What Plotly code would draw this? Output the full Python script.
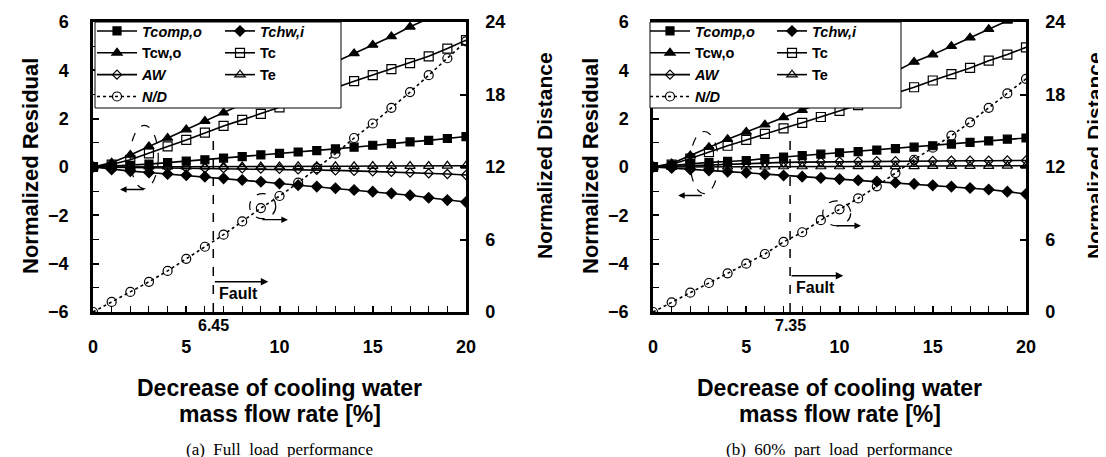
import plotly.graph_objects as go

W, H = 1106, 457

# ---------------- data ----------------
x_pct = [0, 1, 2, 3, 4, 5, 6, 7, 8, 9, 10, 11, 12, 13, 14, 15, 16, 17, 18, 19, 20]

# (a) Full load performance
a_tcomp_o = [0, 0.03, 0.07, 0.12, 0.18, 0.24, 0.30, 0.37, 0.43, 0.50, 0.56, 0.62, 0.68, 0.75, 0.82, 0.90, 0.97, 1.04, 1.10, 1.18, 1.26]
a_tchw_i = [0, -0.10, -0.17, -0.23, -0.29, -0.34, -0.40, -0.47, -0.54, -0.61, -0.68, -0.75, -0.81, -0.88, -0.95, -1.02, -1.09, -1.17, -1.27, -1.37, -1.45]
a_tcw_o = [0, 0.18, 0.50, 0.85, 1.20, 1.55, 1.90, 2.25, 2.60, 2.95, 3.30, 3.65, 4.00, 4.35, 4.70, 5.05, 5.40, 5.80, 6.15, 6.50, 6.85]
a_tc = [0, 0.10, 0.30, 0.56, 0.85, 1.12, 1.42, 1.70, 1.95, 2.20, 2.47, 2.75, 3.00, 3.28, 3.55, 3.80, 4.05, 4.30, 4.58, 4.90, 5.25]
a_aw = [0, -0.01, -0.02, -0.03, -0.03, -0.04, -0.05, -0.05, -0.06, -0.07, -0.08, -0.10, -0.12, -0.14, -0.16, -0.18, -0.20, -0.23, -0.26, -0.29, -0.33]
a_te = [0, 0.0, 0.0, 0.01, 0.01, 0.01, 0.01, 0.02, 0.02, 0.02, 0.02, 0.03, 0.03, 0.03, 0.03, 0.04, 0.04, 0.04, 0.04, 0.05, 0.05]
a_nd = [0, 0.83, 1.66, 2.5, 3.4, 4.4, 5.4, 6.4, 7.5, 8.6, 9.6, 10.7, 11.9, 13.1, 14.4, 15.6, 16.9, 18.2, 19.6, 21.0, 22.4]
a_fault = 6.45

# (b) 60% part load performance
b_tcomp_o = [0, 0.07, 0.14, 0.19, 0.23, 0.27, 0.35, 0.41, 0.47, 0.53, 0.59, 0.64, 0.70, 0.76, 0.82, 0.88, 0.95, 1.02, 1.08, 1.15, 1.20]
b_tchw_i = [0, -0.04, -0.10, -0.14, -0.19, -0.24, -0.30, -0.35, -0.40, -0.45, -0.50, -0.55, -0.60, -0.65, -0.70, -0.76, -0.81, -0.87, -0.93, -1.02, -1.12]
b_tcw_o = [0, 0.15, 0.48, 0.82, 1.15, 1.45, 1.75, 2.05, 2.35, 2.65, 2.95, 3.25, 3.60, 3.95, 4.35, 4.65, 5.00, 5.35, 5.70, 6.05, 6.40]
b_tc = [0, 0.10, 0.35, 0.62, 0.88, 1.12, 1.37, 1.60, 1.83, 2.07, 2.32, 2.56, 2.80, 3.05, 3.30, 3.58, 3.84, 4.10, 4.40, 4.65, 4.95]
b_aw = [0, 0.03, 0.07, 0.10, 0.13, 0.15, 0.17, 0.19, 0.20, 0.21, 0.22, 0.23, 0.24, 0.24, 0.25, 0.25, 0.26, 0.26, 0.26, 0.27, 0.27]
b_te = [0, 0.0, 0.0, 0.01, 0.01, 0.01, 0.01, 0.02, 0.02, 0.02, 0.02, 0.03, 0.03, 0.03, 0.03, 0.04, 0.04, 0.04, 0.04, 0.05, 0.05]
b_nd = [0, 0.8, 1.6, 2.4, 3.2, 4.0, 4.8, 5.8, 6.6, 7.6, 8.5, 9.4, 10.4, 11.5, 12.6, 13.6, 14.6, 15.7, 16.9, 18.1, 19.3]
b_fault = 7.35

x_ticks = [0, 5, 10, 15, 20]
res_ticks = [-6, -4, -2, 0, 2, 4, 6]
dist_ticks = [0, 6, 12, 18, 24]

series_names = ["<i>Tcomp,o</i>", "<i>Tchw,i</i>", "Tcw,o", "Tc", "<i>AW</i>", "Te", "<i>N/D</i>"]
captions = ["(a)\u00a0\u00a0Full\u00a0\u00a0load\u00a0\u00a0performance",
            "(b)\u00a0\u00a060%\u00a0\u00a0part\u00a0\u00a0load\u00a0\u00a0performance"]

# ---------------- geometry (pixels) ----------------
def px(v):
    return v / W

def py(v):
    return 1 - v / H

plot_left = [85, 645]
plot_w = 373
top_px, bot_px = 14, 304

SANS = "Liberation Sans"
SERIF = "Liberation Serif"
BLACK = "black"

fig = go.Figure()

styles = [
    dict(symbol="square", size=8),
    dict(symbol="diamond", size=8),
    dict(symbol="triangle-up", size=9),
    dict(symbol="square-open", size=9),
    dict(symbol="diamond-open", size=7),
    dict(symbol="triangle-up-open", size=9),
    dict(symbol="circle-open", size=9),
]
col_of = [1, 2, 1, 2, 1, 2, 1]

panels = [
    dict(res=[a_tcomp_o, a_tchw_i, a_tcw_o, a_tc, a_aw, a_te], nd=a_nd,
         xa="x", ya="y", yd="y3", legs=("legend", "legend2")),
    dict(res=[b_tcomp_o, b_tchw_i, b_tcw_o, b_tc, b_aw, b_te], nd=b_nd,
         xa="x2", ya="y2", yd="y4", legs=("legend3", "legend4")),
]

for p in panels:
    for i, vals in enumerate(p["res"]):
        st = styles[i]
        fig.add_trace(go.Scatter(
            x=x_pct, y=vals, mode="lines+markers", name=series_names[i],
            line=dict(color=BLACK, width=1.6),
            marker=dict(symbol=st["symbol"], size=st["size"], color=BLACK,
                        line=dict(color=BLACK, width=1.2)),
            xaxis=p["xa"], yaxis=p["ya"],
            legend=p["legs"][col_of[i] - 1],
        ))
    st = styles[6]
    fig.add_trace(go.Scatter(
        x=x_pct, y=p["nd"], mode="lines+markers", name=series_names[6],
        line=dict(color=BLACK, width=1.6, dash="dot"),
        marker=dict(symbol=st["symbol"], size=st["size"], color=BLACK,
                    line=dict(color=BLACK, width=1.2)),
        xaxis=p["xa"], yaxis=p["yd"], legend=p["legs"][0],
    ))

tickfont = dict(family=SANS, size=18, color=BLACK, weight="bold")

def xaxis_cfg(left):
    return dict(
        domain=[px(left), px(left + plot_w)], range=[0, 20],
        tickvals=x_ticks, ticks="inside", ticklen=6, tickwidth=1.5, tickcolor=BLACK,
        minor=dict(dtick=1, ticks="inside", ticklen=6, tickwidth=1.2, tickcolor=BLACK, showgrid=False),
        showline=True, linewidth=2.5, linecolor=BLACK, mirror=True,
        showgrid=False, zeroline=False, tickfont=tickfont, ticklabelstandoff=17,
    )

def yres_cfg(xa):
    return dict(
        domain=[py(bot_px), py(top_px)], range=[-6, 6], anchor=xa,
        tickvals=res_ticks, ticks="inside", ticklen=6, tickwidth=1.5, tickcolor=BLACK,
        minor=dict(dtick=1, ticks="inside", ticklen=6, tickwidth=1.2, tickcolor=BLACK, showgrid=False),
        showline=True, linewidth=2.5, linecolor=BLACK, mirror=True,
        showgrid=False, zeroline=False, tickfont=tickfont, ticklabelstandoff=18,
    )

def ydist_cfg(xa, over):
    return dict(
        range=[0, 24], anchor=xa, overlaying=over, side="right",
        tickvals=dist_ticks, ticks="inside", ticklen=6, tickwidth=1.5, tickcolor=BLACK,
        showline=True, linewidth=2.5, linecolor=BLACK,
        showgrid=False, zeroline=False, tickfont=tickfont, ticklabelstandoff=13,
    )

legend_font = dict(family=SANS, size=14.5, color=BLACK, weight="bold")

def legend_cfg(xpix, iw):
    return dict(x=px(xpix), y=py(7), xanchor="left", yanchor="top",
                bgcolor="rgba(0,0,0,0)", borderwidth=0, font=legend_font,
                tracegroupgap=0, itemwidth=iw)

fig.update_layout(
    width=W, height=H,
    margin=dict(l=0, r=0, t=0, b=0, autoexpand=False),
    paper_bgcolor="white", plot_bgcolor="white",
    showlegend=True,
    xaxis=xaxis_cfg(plot_left[0]),
    xaxis2=xaxis_cfg(plot_left[1]),
    yaxis=yres_cfg("x"),
    yaxis2=yres_cfg("x2"),
    yaxis3=ydist_cfg("x", "y"),
    yaxis4=ydist_cfg("x2", "y2"),
    legend=legend_cfg(plot_left[0] - 1, 40),
    legend2=legend_cfg(plot_left[0] + 127, 30),
    legend3=legend_cfg(plot_left[1] - 8, 40),
    legend4=legend_cfg(plot_left[1] + 119, 30),
)

shapes = []
annotations = []
faults = [a_fault, b_fault]
fault_arrow_end = [(9.4, -4.75), (10.2, -4.5)]
fault_text_y = [-5.25, -5.0]
ell1 = [dict(x0=2.0, x1=3.5, y0=-0.9, y1=1.72), dict(x0=2.0, x1=3.5, y0=-1.1, y1=1.47)]
ell1_arrow = [(2.8, 1.45, -0.93), (2.7, 1.35, -1.18)]
ell2 = [dict(x0=8.4, x1=9.8, y0=-2.14, y1=-1.1), dict(x0=9.1, x1=10.6, y0=-2.43, y1=-1.4)]
ell2_arrow = [(9.0, 10.45, -2.18), (9.75, 11.15, -2.43)]
box_px = [(87, 333), (642, 893)]
dist_title_x = [536, 1086]

for k, (xa, ya) in enumerate([("x", "y"), ("x2", "y2")]):
    left = plot_left[k]
    # legend box
    shapes.append(dict(type="rect", xref="paper", yref="paper",
                       x0=px(box_px[k][0]), x1=px(box_px[k][1]),
                       y0=py(100), y1=py(top_px),
                       fillcolor="white", line=dict(color=BLACK, width=1), layer="above"))
    f = faults[k]
    shapes.append(dict(type="line", xref=xa, yref=ya, x0=f, x1=f, y0=-6, y1=1.25,
                       line=dict(color=BLACK, width=1.5, dash="dash"), layer="below"))
    shapes.append(dict(type="circle", xref=xa, yref=ya, **ell1[k],
                       line=dict(color=BLACK, width=1.2, dash="dash")))
    shapes.append(dict(type="circle", xref=xa, yref=ya, **ell2[k],
                       line=dict(color=BLACK, width=1.2, dash="dash")))
    # arrows
    fx, fy = fault_arrow_end[k]
    annotations.append(dict(x=fx, y=fy, ax=f, ay=fy, xref=xa, yref=ya, axref=xa, ayref=ya,
                            text="", showarrow=True, arrowhead=2, arrowsize=1, arrowwidth=1.5,
                            arrowcolor=BLACK))
    t0, t1, ty = ell1_arrow[k]
    annotations.append(dict(x=t1, y=ty, ax=t0, ay=ty, xref=xa, yref=ya, axref=xa, ayref=ya,
                            text="", showarrow=True, arrowhead=2, arrowsize=1, arrowwidth=1.3,
                            arrowcolor=BLACK))
    t0, t1, ty = ell2_arrow[k]
    annotations.append(dict(x=t1, y=ty, ax=t0, ay=ty, xref=xa, yref=ya, axref=xa, ayref=ya,
                            text="", showarrow=True, arrowhead=2, arrowsize=1, arrowwidth=1.3,
                            arrowcolor=BLACK))
    # Fault text
    annotations.append(dict(x=f, y=fault_text_y[k], xref=xa, yref=ya, text="Fault",
                            showarrow=False, xanchor="left", yanchor="middle", xshift=4,
                            font=dict(family=SANS, size=16, color=BLACK, weight="bold")))
    # fault location label
    annotations.append(dict(x=f, y=-6, xref=xa, yref=ya, text=("%.2f" % f),
                            showarrow=False, xanchor="center", yanchor="top", yshift=-3,
                            font=dict(family=SANS, size=16, color=BLACK, weight="bold")))
    cx = left + plot_w / 2
    # x title
    annotations.append(dict(x=px(cx), y=py(380), xref="paper", yref="paper",
                            xanchor="center", yanchor="middle",
                            text="Decrease of cooling water", showarrow=False,
                            font=dict(family=SANS, size=23, color=BLACK, weight="bold")))
    annotations.append(dict(x=px(cx), y=py(406), xref="paper", yref="paper",
                            xanchor="center", yanchor="middle",
                            text="mass flow rate [%]", showarrow=False,
                            font=dict(family=SANS, size=23, color=BLACK, weight="bold")))
    # caption
    annotations.append(dict(x=px(cx), y=py(441), xref="paper", yref="paper",
                            xanchor="center", yanchor="middle",
                            text=captions[k], showarrow=False,
                            font=dict(family=SERIF, size=17, color=BLACK)))
    # y titles
    annotations.append(dict(x=px(left - 63), y=py(158), xref="paper", yref="paper",
                            xanchor="center", yanchor="middle",
                            text="Normalized Residual", showarrow=False, textangle=-90,
                            font=dict(family=SANS, size=22, color=BLACK, weight="bold")))
    annotations.append(dict(x=px(dist_title_x[k]), y=py(148), xref="paper", yref="paper",
                            xanchor="center", yanchor="middle",
                            text="Normalized Distance", showarrow=False, textangle=-90,
                            font=dict(family=SANS, size=21, color=BLACK, weight="bold")))

fig.update_layout(shapes=shapes, annotations=annotations)
fig.write_html("out.html")
